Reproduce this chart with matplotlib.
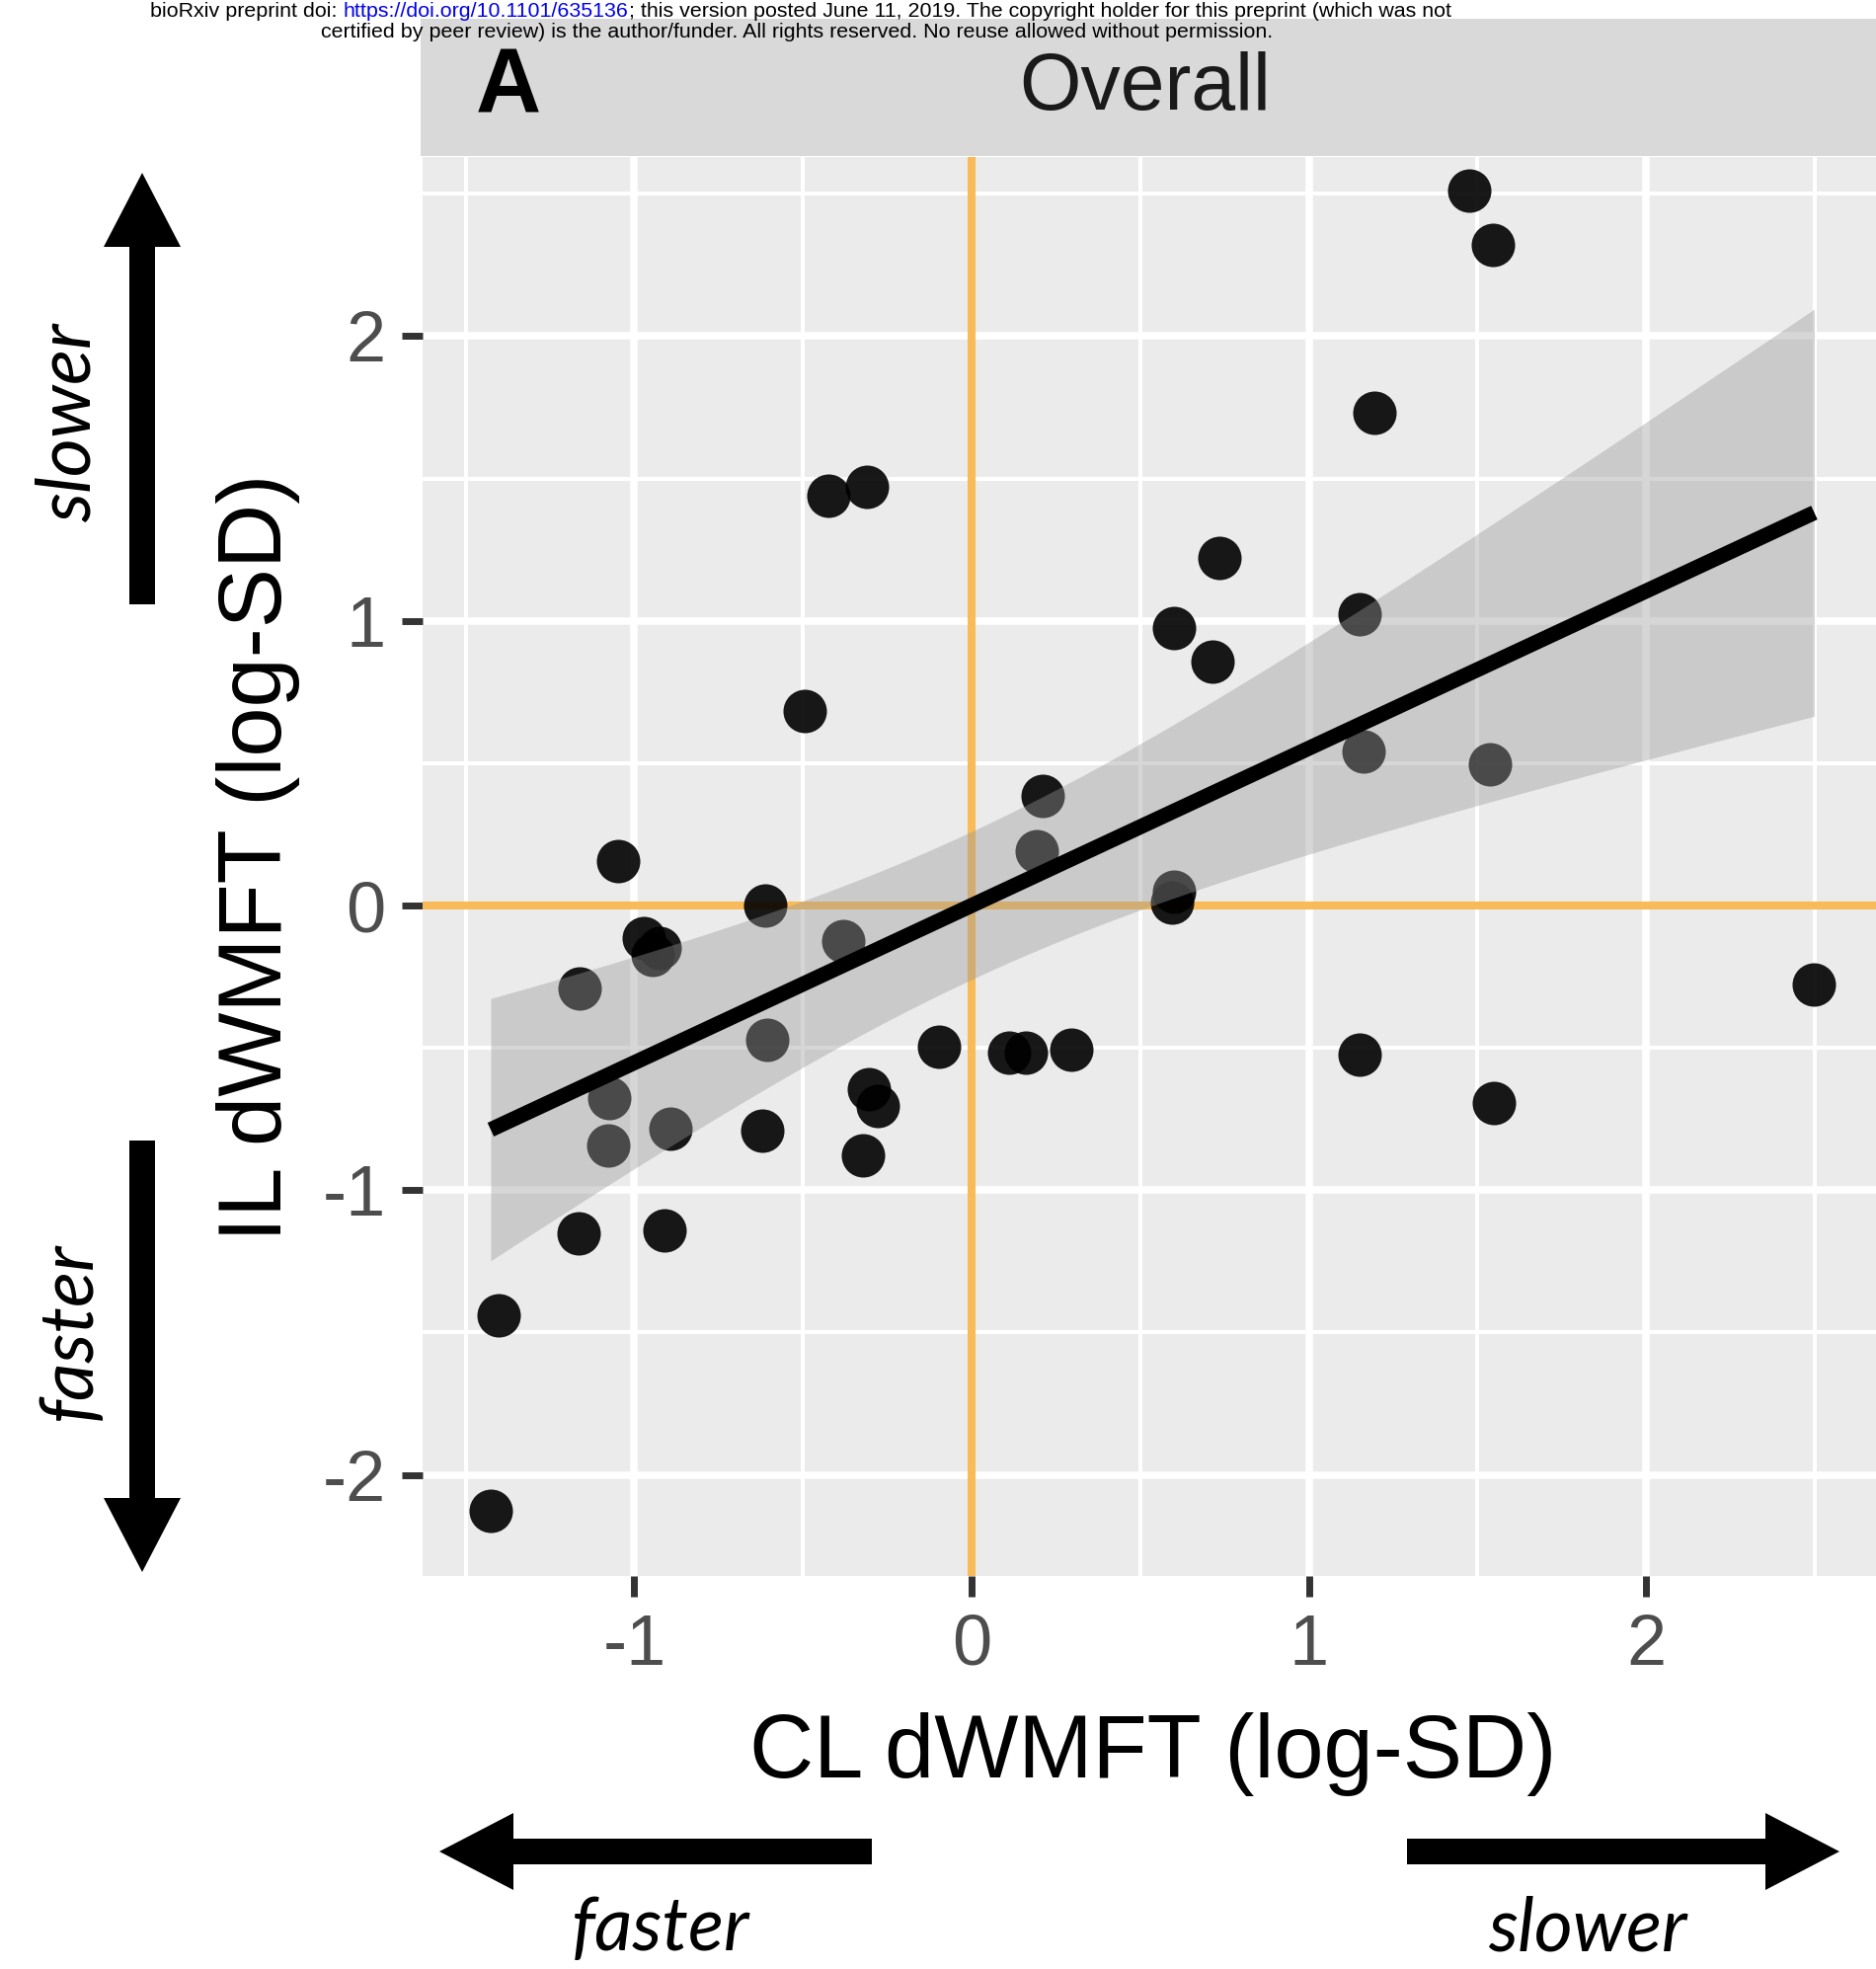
import numpy as np
import matplotlib
matplotlib.use("Agg")
import matplotlib.pyplot as plt
from matplotlib.patches import FancyArrow
from matplotlib.ticker import MultipleLocator

# CL / IL dWMFT values (log-SD)
cl_x = [1.475, 1.546, 1.196, -0.425, -0.309, 0.736, 0.601, 0.714, 1.152, -0.495,
        1.162, 1.538, 0.211, 0.192, 0.601, 0.595, -1.048, -0.612, -0.972, -0.925,
        -0.945, -1.162, -0.381, -0.606, -0.097, 0.110, 0.160, 0.296, -0.305, -0.279,
        -0.321, -0.621, -1.076, -1.079, -0.893, -1.164, -0.912, -1.404, -1.426, 1.151,
        1.549, 2.499]
il_y = [2.510, 2.320, 1.730, 1.440, 1.470, 1.220, 0.975, 0.858, 1.024, 0.684,
        0.540, 0.495, 0.385, 0.190, 0.050, 0.012, 0.156, 0.000, -0.114, -0.150,
        -0.175, -0.290, -0.126, -0.472, -0.496, -0.518, -0.518, -0.507, -0.646, -0.704,
        -0.878, -0.791, -0.675, -0.843, -0.785, -1.150, -1.142, -1.438, -2.126, -0.525,
        -0.693, -0.278]

x_ticks = [-1, 0, 1, 2]
y_ticks = [-2, -1, 0, 1, 2]

W, H = 1900, 1994
FONT = "Liberation Sans"
plt.rcParams['font.family'] = [FONT, 'DejaVu Sans']

fig = plt.figure(figsize=(W / 100, H / 100), dpi=100)

# panel
ax = fig.add_axes([428 / W, 1 - 1596 / H, 1 - 428 / W, (1596 - 159) / H])
ax.set_facecolor('#ebebeb')
for s in ax.spines.values():
    s.set_visible(False)
ax.set_xlim(-1.628, 2.682)
ax.set_ylim(-2.355, 2.629)
ax.set_xticks(x_ticks)
ax.set_yticks(y_ticks)
ax.set_xticklabels([str(v) for v in x_ticks])
ax.set_yticklabels([str(v) for v in y_ticks])
ax.xaxis.set_minor_locator(MultipleLocator(0.5))
ax.yaxis.set_minor_locator(MultipleLocator(0.5))
ax.set_axisbelow(True)
ax.grid(which='major', color='white', lw=5.4, zorder=0.5)
ax.grid(which='minor', color='white', lw=2.9, zorder=0.4)
ax.tick_params(which='minor', length=0)
ax.tick_params(which='major', length=15, width=5, color='#333333',
               labelsize=52, labelcolor='#4d4d4d')
ax.tick_params(axis='x', pad=12)
ax.tick_params(axis='y', pad=12)

ax.axvline(0, color='#f8bb57', lw=5.8, zorder=1)
ax.axhline(0, color='#f8bb57', lw=5.8, zorder=1)

x = np.array(cl_x)
y = np.array(il_y)
ax.scatter(x, y, s=1005, color='black', alpha=0.9, linewidths=0, zorder=2)

# linear fit with 95% confidence band
n = len(x)
xm, ym = x.mean(), y.mean()
sxx = ((x - xm) ** 2).sum()
b = ((x - xm) * (y - ym)).sum() / sxx
a = ym - b * xm
s_res = np.sqrt(((y - (a + b * x)) ** 2).sum() / (n - 2))
t_crit = 2.021
xs = np.linspace(x.min(), x.max(), 100)
fit = a + b * xs
hw = t_crit * s_res * np.sqrt(1 / n + (xs - xm) ** 2 / sxx)
ax.fill_between(xs, fit - hw, fit + hw, color='#999999', alpha=0.4, lw=0, zorder=3)
ax.plot(xs, fit, color='black', lw=11, solid_capstyle='butt', zorder=4)

# strip
sax = fig.add_axes([426 / W, 1 - 158 / H, 1 - 426 / W, (158 - 19) / H])
sax.set_facecolor('#d9d9d9')
sax.set_xticks([])
sax.set_yticks([])
for s in sax.spines.values():
    s.set_visible(False)

# overlay in pixel coords for arrows and free text
ov = fig.add_axes([0, 0, 1, 1], facecolor='none')
ov.set_xlim(0, W)
ov.set_ylim(H, 0)
ov.axis('off')

ov.text(1160, 90, "Overall", ha='center', va='center', fontsize=58, color='#1a1a1a')
ov.text(515, 90, "A", ha='center', va='center', fontsize=66, fontweight='bold', color='black')

arr = dict(width=26, head_width=78, head_length=75, length_includes_head=True,
           color='black', lw=0)
ov.add_patch(FancyArrow(144, 612, 0, -437, **arr))
ov.add_patch(FancyArrow(144, 1155, 0, 437, **arr))
ov.add_patch(FancyArrow(883, 1875, -438, 0, **arr))
ov.add_patch(FancyArrow(1425, 1875, 438, 0, **arr))

ital = dict(family=['Lato', 'DejaVu Sans'], style='italic', fontsize=54, color='black')
ov.text(92, 428, "slower", rotation=90, rotation_mode='anchor', ha='center', va='baseline', **ital)
ov.text(92, 1348, "faster", rotation=90, rotation_mode='anchor', ha='center', va='baseline', **ital)
ov.text(669, 1975, "faster", ha='center', va='baseline', **ital)
ov.text(1608, 1975, "slower", ha='center', va='baseline', **ital)

# axis titles
ov.text(1168, 1800, "CL dWMFT (log-SD)", ha='center', va='baseline', fontsize=65, color='black')
ov.text(261, 868, "IL dWMFT (log-SD)", rotation=90, ha='center', va='center', fontsize=65,
        color='black')

# preprint header, with the doi in blue
hdr_size = 15.4
pieces = [("bioRxiv preprint doi: ", 'black'),
          ("https://doi.org/10.1101/635136", '#0000ee'),
          ("; this version posted June 11, 2019. The copyright holder for this preprint (which was not", 'black')]
renderer = fig.canvas.get_renderer()
texts = []
for txt, col in pieces:
    t = ov.text(0, 17, txt, ha='left', va='baseline', fontsize=hdr_size, color=col, zorder=10)
    texts.append(t)
widths = []
for t in texts:
    bb = t.get_window_extent(renderer)
    widths.append(bb.width)
x0 = 811 - sum(widths) / 2
for t, w in zip(texts, widths):
    t.set_x(x0)
    x0 += w
ov.text(807, 38, "certified by peer review) is the author/funder. All rights reserved. No reuse allowed without permission.",
        ha='center', va='baseline', fontsize=hdr_size, color='black', zorder=10)

fig.savefig("out.png", dpi=100)
